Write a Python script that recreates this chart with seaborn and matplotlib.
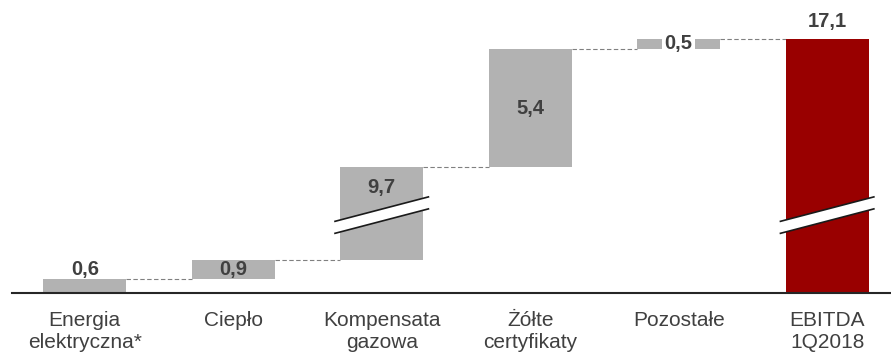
import numpy as np
import pandas as pd
import matplotlib
matplotlib.use("Agg")
import matplotlib.pyplot as plt
from matplotlib.patches import Polygon
import seaborn as sns

# Bridge of EBITDA components (mln zł)
categories = ["Energia\nelektryczna*", "Ciepło", "Kompensata\ngazowa",
              "Żółte\ncertyfikaty", "Pozostałe", "EBITDA\n1Q2018"]
changes = [0.6, 0.9, 9.7, 5.4, 0.5]
total = 17.1
value_labels = ["0,6", "0,9", "9,7", "5,4", "0,5", "17,1"]
label_modes = ["above", "inside", "top", "inside", "boxed", "above"]
label_offsets = [7.5, 0, -15, 0, 0, 12]  # points

GRAY = "#b2b2b2"
RED = "#990000"
TEXT = "#404040"

# the value axis is broken: the range BREAK_AT .. BREAK_AT + BREAK_GAP is skipped
BREAK_AT = 3.55
BREAK_GAP = 5.45
PX_PER_UNIT = 21.8


def squeeze(v):
    v = np.asarray(v, dtype=float)
    return v - np.clip(v - BREAK_AT, 0, BREAK_GAP)


cum = np.cumsum(changes)
ends = np.append(cum, total)
starts = np.append(cum - np.array(changes), 0.0)

df = pd.DataFrame({
    "cat": categories,
    "top": squeeze(ends),
    "bottom": squeeze(starts),
})
df["height"] = df["top"] - df["bottom"]

sns.set_theme(style="white")
plt.rcParams["font.family"] = ["Liberation Sans", "DejaVu Sans"]

fig = plt.figure(figsize=(8.91, 3.54), dpi=100)
ax = fig.add_axes([12 / 891, 61.5 / 354, 879 / 891, 292.5 / 354])

BAR_W = 0.56
sns.barplot(data=df, x="cat", y="height", bottom=df["bottom"].values,
            color=GRAY, saturation=1, width=BAR_W, errorbar=None,
            edgecolor="none", linewidth=0, ax=ax, zorder=2)
ax.patches[-1].set_facecolor(RED)

# dashed connectors between consecutive bars
for i in range(len(categories) - 1):
    y = df["top"].iloc[i]
    ax.plot([i + BAR_W / 2, i + 1 - BAR_W / 2], [y, y], color="#808080",
            lw=0.8, linestyle=(0, (4, 2.2)), zorder=1)

# value labels
for i, (txt, mode, off) in enumerate(zip(value_labels, label_modes, label_offsets)):
    top, bot = df["top"].iloc[i], df["bottom"].iloc[i]
    kw = dict(ha="center", va="center", fontsize=14.5, fontweight="bold",
              color=TEXT, textcoords="offset points", zorder=6)
    if mode in ("above", "top"):
        ax.annotate(txt, (i, top), xytext=(0, off), **kw)
    elif mode == "boxed":
        ax.annotate(txt, (i, (top + bot) / 2), xytext=(0, off),
                    bbox=dict(boxstyle="square,pad=0.12", fc="white", ec="none"),
                    **kw)
    else:
        ax.annotate(txt, (i, (top + bot) / 2), xytext=(0, off), **kw)

# break marks on the bars that span the skipped range
half_w, half_t, rise = 0.32, 0.275, 0.57
for i in range(len(categories)):
    if starts[i] < BREAK_AT + BREAK_GAP and ends[i] > BREAK_AT + BREAK_GAP:
        xs = np.array([i - half_w, i + half_w])
        lo = BREAK_AT - half_t + np.array([-rise, rise])
        hi = BREAK_AT + half_t + np.array([-rise, rise])
        ax.add_patch(Polygon([[xs[0], lo[0]], [xs[1], lo[1]],
                              [xs[1], hi[1]], [xs[0], hi[0]]],
                             closed=True, fc="white", ec="none", zorder=4))
        ax.plot(xs, lo, color="#1a1a1a", lw=1.2, zorder=5,
                solid_capstyle="butt")
        ax.plot(xs, hi, color="#1a1a1a", lw=1.2, zorder=5,
                solid_capstyle="butt")

ax.set_xlim(-0.49, 5.43)
ax.set_ylim(0, 292.5 / PX_PER_UNIT)
ax.set_xlabel("")
ax.set_ylabel("")
ax.set_yticks([])
for side in ("left", "top", "right"):
    ax.spines[side].set_visible(False)
ax.spines["bottom"].set_color("#262626")
ax.spines["bottom"].set_linewidth(1.5)
ax.tick_params(axis="x", length=0, pad=13.5, labelsize=15, labelcolor=TEXT)
for t in ax.get_xticklabels():
    t.set_linespacing(1.2)

fig.savefig("out.png", dpi=100)
